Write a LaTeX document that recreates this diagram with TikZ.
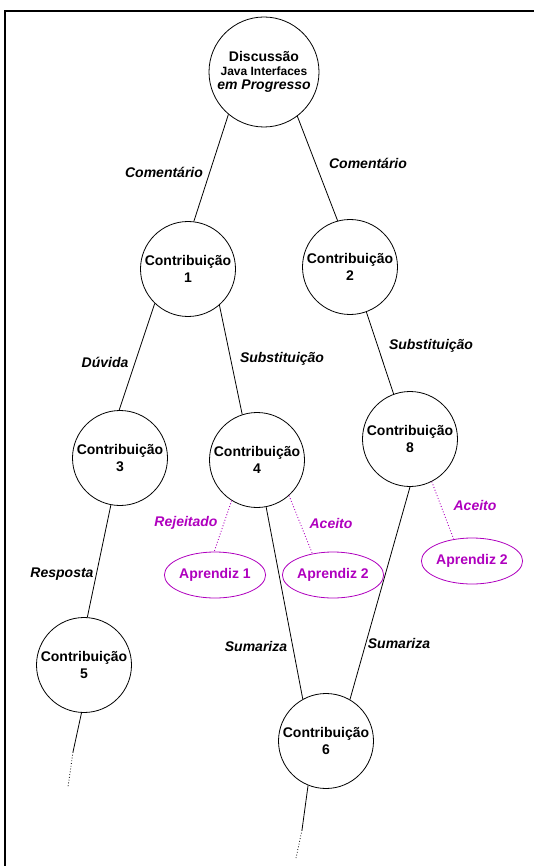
\documentclass[tikz,border=0pt]{standalone}
\usepackage{fontspec}
\setmainfont{Liberation Sans}
\usetikzlibrary{shapes.geometric}
\definecolor{mag}{RGB}{175,0,190}
\begin{document}
\begin{tikzpicture}[x=1pt,y=-1pt,
  contrib/.style={circle,draw,line width=0.8pt,minimum size=95pt,inner sep=0pt,align=center,
    font=\bfseries\fontsize{14}{17}\selectfont},
  apr/.style={ellipse,draw=mag,line width=0.8pt,minimum width=82pt,minimum height=46pt,inner sep=0pt,
    text=mag,font=\bfseries\fontsize{14}{17}\selectfont},
  lbl/.style={font=\bfseries\itshape\fontsize{14}{17}\selectfont,inner sep=0pt},
  mlbl/.style={lbl,text=mag},
  edge/.style={line width=0.8pt},
  dedge/.style={draw=mag,line width=0.9pt,dotted},
  tail/.style={line width=0.8pt,dotted}]
\useasboundingbox (0,0) rectangle (534,866);
\draw[line width=1.6pt] (5,866) -- (5,11) -- (534,11);

\node[contrib,minimum size=110pt] (d) at (264,72)
  {Discussão\\[-3pt]{\fontsize{12}{14}\selectfont Java Interfaces}\\[-3pt]\textit{em Progresso}};
\node[contrib] (c1) at (188,269) {Contribuição\\1};
\node[contrib] (c2) at (350,267) {Contribuição\\2};
\node[contrib] (c3) at (120,458) {Contribuição\\3};
\node[contrib] (c4) at (257,460) {Contribuição\\4};
\node[contrib] (c8) at (410,439) {Contribuição\\8};
\node[contrib] (c5) at (84,665) {Contribuição\\5};
\node[contrib] (c6) at (326,741) {Contribuição\\6};

\node[apr] (a1) at (215,575) {Aprendiz 1};
\node[apr] (a2) at (333,575) {Aprendiz 2};
\node[apr] (a3) at (472,561) {Aprendiz 2};

\draw[edge] (d.230) -- (c1.83);
\draw[edge] (d.307) -- (c2.105);
\draw[edge] (c1.226) -- (c3.91);
\draw[edge] (c1.311) -- (c4.108);
\draw[edge] (c2.290) -- (c8.110);
\draw[edge] (c3.259) -- (c5.86);
\draw[edge] (c4.281) -- (c6.119);
\draw[edge] (c8.270) -- (c6.60);
\draw[dedge] (c4.238) -- (a1.92);
\draw[dedge] (c4.312) -- (a2.134);
\draw[dedge] (c8.297) -- (a3.130);

\coordinate (e5) at (73,752);
\coordinate (f5) at (68,787);
\draw[edge] (c5.267) -- (e5);
\draw[tail] (e5) -- (f5);
\coordinate (e6) at (302,830);
\coordinate (f6) at (296,858);
\draw[edge] (c6.248) -- (e6);
\draw[tail] (e6) -- (f6);

\node[lbl] (l1) at (164,172) {Comentário};
\node[lbl] (l2) at (368,163) {Comentário};
\node[lbl] (l3) at (105,362) {Dúvida};
\node[lbl] (l4) at (282,359) {Substituição};
\node[lbl] (l5) at (431,346) {Substituição};
\node[lbl] (l6) at (62,574) {Resposta};
\node[mlbl] (l7) at (186,523) {Rejeitado};
\node[mlbl] (l8) at (331,523) {Aceito};
\node[mlbl] (l9) at (475,505) {Aceito};
\node[lbl] (l10) at (256,646) {Sumariza};
\node[lbl] (l11) at (399,643) {Sumariza};
\end{tikzpicture}
\end{document}
